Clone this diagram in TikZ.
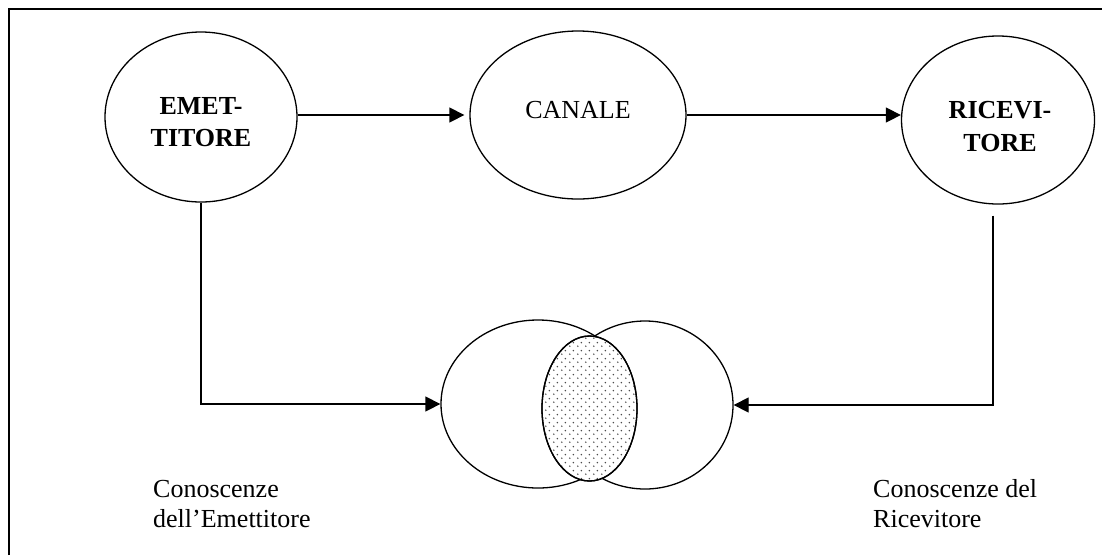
\documentclass[tikz,border=0pt]{standalone}
\usepackage{fontspec}
\setmainfont{Liberation Serif}
\usetikzlibrary{shapes.geometric,arrows.meta,patterns}

% staggered grid of small dots for the shared area
\pgfdeclarepatternformonly{stagdots}{\pgfpointorigin}{\pgfpoint{8pt}{8pt}}{\pgfpoint{8pt}{8pt}}{%
  \pgfpathcircle{\pgfpoint{2pt}{2pt}}{0.9pt}%
  \pgfpathcircle{\pgfpoint{6pt}{6pt}}{0.9pt}%
  \pgfusepath{fill}}

\begin{document}
\begin{tikzpicture}[x=1pt,y=-1pt,
  blob/.style={draw,ellipse,line width=1.3pt,inner sep=0pt},
  arr/.style={line width=1.3pt,-{Triangle[length=15pt,width=15pt]}},
  plain/.style={line width=1.3pt},
  txt/.style={font=\fontsize{26}{32}\selectfont,inner sep=0pt,align=center},
  lbl/.style={font=\fontsize{26}{30}\selectfont,inner sep=0pt,anchor=base west}]
  \useasboundingbox (0,0) rectangle (1102,555);

  % frame (left and top edges)
  \draw[line width=2pt] (9,555) -- (9,9) -- (1102,9);

  % the three stages of communication
  \node[blob,minimum width=192pt,minimum height=170pt] (em) at (201,117) {};
  \node[blob,minimum width=216pt,minimum height=168pt] (ca) at (578,115) {};
  \node[blob,minimum width=193pt,minimum height=168pt] (ri) at (998,120) {};

  \node[txt,font=\fontsize{26}{32}\selectfont\bfseries] (emt) at (201,122) {EMET-\\TITORE};
  \node[txt] (cat) at (578,110) {CANALE};
  \node[txt,font=\fontsize{26}{33}\selectfont\bfseries] (rit) at (1000,127) {RICEVI-\\TORE};

  \draw[arr,shorten >=5pt] (ca.west -| em.east) -- (ca.west);
  \draw[arr] (ca.east) -- (ca.east -| ri.west);

  % knowledge sets of sender and receiver, with their overlap
  \node[blob,minimum width=194pt,minimum height=168pt] (kl) at (538,404) {};
  \node[blob,minimum width=176pt,minimum height=168pt] (kr) at (645,405) {};
  \node[blob,minimum width=95pt,minimum height=145pt,fill=white] (ks) at (589.5,408.5) {};
  \fill[pattern=stagdots,pattern color=black!70] (ks.center) ellipse [x radius=46.9pt,y radius=71.9pt];
  \draw[line width=1.3pt] (ks.center) ellipse [x radius=47.5pt,y radius=72.5pt];

  \draw[arr] (em.south) |- (kl.west);
  \draw[plain,shorten <=11pt,-{Triangle[length=15pt,width=15pt]}] ([xshift=-5pt]ri.south) |- (kr.east);

  \node[lbl] (le1) at (153,497) {Conoscenze};
  \node[lbl] (le2) at (153,527) {dell’Emettitore};
  \node[lbl] (lr1) at (873,497) {Conoscenze del};
  \node[lbl] (lr2) at (873,527) {Ricevitore};
\end{tikzpicture}
\end{document}
